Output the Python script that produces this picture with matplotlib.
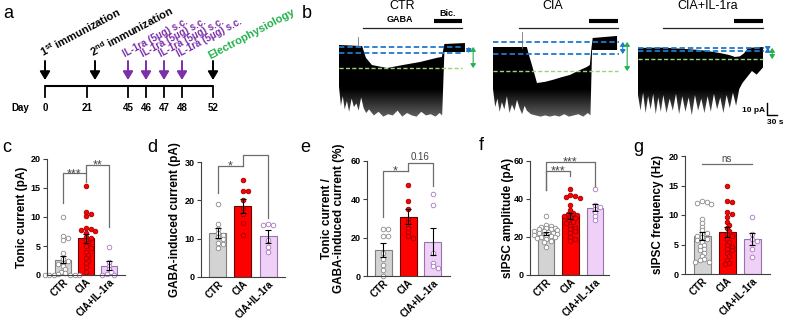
import numpy as np
import matplotlib
matplotlib.use('Agg')
import matplotlib.pyplot as plt
from matplotlib.patches import Polygon
from matplotlib.colors import LinearSegmentedColormap

plt.rcParams['font.family'] = ['Liberation Sans', 'DejaVu Sans']
plt.rcParams['mathtext.fontset'] = 'custom'
plt.rcParams['mathtext.rm'] = 'Liberation Sans'
plt.rcParams['mathtext.bf'] = 'Liberation Sans:bold'

W, H = 786, 321

# ---------------- data ----------------
groups = ['CTR', 'CIA', 'CIA+IL-1ra']

# panel a: timeline
day_labels = ['0', '21', '45', '46', '47', '48', '52']
il1ra_label = 'IL-1ra (5μg) s.c.'

# panel b: traces (time in s, current in pA)
ctr_up_t = [0, 73, 79, 85, 104, 152, 202, 256, 310, 325, 329, 333, 398]
ctr_up_v = [6.7, 5.8, 1, -4, -10, -12.5, -10, -7.5, -4, -3.3, 2, 7.5, 8.3]
ctr_lo_t = [0, 6, 12, 18, 25, 32, 40, 47, 55, 62, 70, 78, 86, 95, 110, 125, 140, 155,
            170, 185, 200, 215, 230, 245, 260, 275, 290, 305, 318, 326, 333, 398]
ctr_lo_v = [-28, -44, -36, -47, -40, -49, -38, -45, -42, -48, -37, -46, -50, -47, -52, -49,
            -53, -51, -52, -48, -53, -50, -52, -53, -49, -52, -51, -53, -50, -52, 0.8, 0.8]

cia_up_t = [0, 107, 115, 123, 139, 165, 190, 215, 243, 270, 297, 306, 311, 315, 392]
cia_up_v = [5, 5, -3, -10, -25, -24, -22.3, -20.3, -18.3, -14.8, -11.6, -10, 4, 12.5, 14.2]
cia_lo_t = [0, 7, 14, 21, 28, 36, 44, 52, 60, 68, 76, 84, 92, 100, 107, 120, 135, 150, 165,
            180, 195, 210, 225, 240, 255, 270, 285, 300, 308, 313, 392]
cia_lo_v = [-30, -45, -38, -49, -41, -47, -36, -50, -43, -48, -39, -46, -51, -44, -48, -51,
            -52, -53, -52, -53, -52, -53, -51, -53, -52, -51, -53, -50, -52, 2.5, 2.5]

il_up_t = [0, 80, 140, 196, 230, 259, 290, 306, 322, 335, 348, 395]
il_up_v = [4.2, 4.5, 3.5, 2.5, 1.2, 0, -1.8, -3.3, -2.8, -0.3, 4.2, 5]
il_lo_t = [0, 8, 16, 24, 32, 40, 48, 56, 64, 72, 80, 90, 100, 110, 120, 130, 140, 150, 160,
           170, 180, 190, 200, 210, 220, 230, 240, 250, 260, 270, 280, 290, 300, 310, 320,
           330, 345, 360, 375, 395]
il_lo_v = [-35, -48, -33, -50, -36, -47, -34, -51, -37, -49, -35, -50, -38, -48, -34, -51,
           -36, -49, -37, -52, -35, -48, -38, -50, -36, -49, -34, -47, -37, -50, -35, -46,
           -33, -44, -30, -25, -20, -15, -18, -12]

up_spike_t = [60, 92, None]
up_spike_v = [13, 17.5, None]

base_level = [0, -0.8, 1.7]
bic_level = [5, 9.2, 4.2]
gaba_level = [-12.5, -15, -5]
gaba_on = [76, 82, 79]
bic_on = [300, 303, 303]
drug_off = [389, 395, 395]

# panels c-g: mean, sem, individual cells
c_mean, c_sem = [2.6, 6.3, 1.6], [0.6, 0.7, 0.8]
c_ctr = [10, 6.7, 6.3, 6.0, 3.8, 2.7, 2.4, 2.1, 1.9, 1.5, 1.0, 0.6, 0.3, 0.1, 0, 0, 0, 0, 0, 0]
c_cia = [15.3, 10.9, 10.6, 10.2, 8.1, 7.9, 7.8, 7.6, 7.3, 6.6, 6.3, 6.0, 5.5, 5.0, 4.6,
         4.0, 3.5, 3.0, 2.5, 2.0, 1.3, 0.5]
c_il = [4.8, 2.3, 1.6, 1.0, 0.5, 0.2, 0, 0]

d_mean, d_sem = [11.5, 18.5, 10.6], [1.3, 1.9, 1.6]
d_ctr = [19.0, 13.7, 12.5, 11.5, 11.0, 10.5, 10.0, 9.0, 8.5, 7.5]
d_cia = [25.3, 22.5, 22.5, 20.0, 18.0, 16.5, 14.0, 11.0]
d_il = [13.8, 13.5, 13.5, 9.6, 7.8, 6.5]

e_mean, e_sem = [13.5, 31.0, 18.0], [3.5, 4.0, 7.0]
e_ctr = [24.4, 24.4, 20.8, 20.8, 12.0, 9.0, 6.0, 3.0, 0.0]
e_cia = [47.5, 39.0, 35.0, 30.0, 28.0, 25.0, 23.0, 21.0, 20.0]
e_il = [43.0, 37.0, 12.0, 7.0, 5.0, 4.0]

f_mean, f_sem = [22.0, 31.0, 35.5], [0.8, 1.4, 2.0]
f_ctr = [31, 26.5, 26, 25.5, 25, 24.5, 24, 24, 23.5, 23, 23, 22.5, 22, 22, 21.5, 21, 21,
         20.5, 20, 20, 19.5, 19, 18, 17.5, 14.5]
f_cia = [45.5, 42, 41.5, 41, 40.5, 37, 34, 32.5, 32, 31.5, 31, 30.5, 30, 29, 28, 27.5, 26,
         25, 24, 23, 22, 20, 19, 18]
f_il = [45.5, 37, 36, 35, 33, 31, 29]

g_mean, g_sem = [6.5, 7.1, 5.9], [0.7, 0.8, 1.0]
g_ctr = [12.4, 12.2, 12.0, 11.9, 9.4, 8.7, 8.0, 7.4, 7.0, 6.8, 6.5, 6.2, 6.0, 5.8, 5.5, 5.0,
         4.7, 4.3, 4.0, 3.6, 3.0, 2.5, 2.3, 2.1, 2.0]
g_cia = [14.9, 12.4, 12.2, 10.5, 10.2, 9.6, 8.8, 8.3, 7.8, 7.3, 6.8, 6.4, 6.0, 5.5, 5.0, 4.6,
         4.2, 4.0, 3.5, 3.0, 2.4, 1.9, 1.7]
g_il = [9.7, 6.8, 6.0, 5.6, 4.2, 2.9]

# brackets: (label, group1, group2, top, left end, right end)
c_sig = [('***', 0, 1, 17.5, 12.4, 16.0), ('**', 1, 2, 19.0, 17.5, 8.3)]
d_sig = [('*', 0, 1, 29.0, 21.8, 29.0), ('*', 1, 2, 31.7, 29.0, 15.3)]
e_sig = [('*', 0, 1, 55.0, 30.6, 55.0), ('0.16', 1, 2, 59.0, 55.0, 47.0)]
f_sig = [('***', 0, 2, 59.5, 45.0, 47.0), ('***', 0, 1, 55.0, 45.0, 52.0)]
g_sig = [('ns', 0, 2, 18.6, 18.6, 18.6)]

bar_face = ['#d3d3d3', '#ff0000', '#efd0f7']
bar_edge = ['#7f7f7f', '#6a0000', '#9a72ad']
dot_face = ['white', '#ff0000', 'white']
dot_edge = ['#8a8a8a', '#a00000', '#a878c0']
purple = '#7b2fa8'
green = '#22b04b'
blue = '#1f78c8'
lgreen = '#9bd27a'
sig_c = '#6d6d6d'

# ---------------- figure ----------------
fig = plt.figure(figsize=(W / 100, H / 100), dpi=100)


def box(x0, y0, x1, y1):
    return [x0 / W, 1 - y1 / H, (x1 - x0) / W, (y1 - y0) / H]


ov = fig.add_axes([0, 0, 1, 1])
ov.set_xlim(0, W)
ov.set_ylim(H, 0)
ov.axis('off')

for lab, x, y in [('a', 8, 14), ('b', 307, 13), ('c', 7, 147), ('d', 152, 147),
                  ('e', 305, 147), ('f', 481, 145), ('g', 638, 147)]:
    ov.text(x, y, lab, fontsize=13, ha='center', va='center')

# ---- panel a ----
day_x = [45, 87, 128, 146, 164, 182, 213]
ov.plot([day_x[0], day_x[-1]], [86, 86], color='k', lw=1.5, solid_capstyle='butt')
for x, lab in zip(day_x, day_labels):
    ov.plot([x, x], [86, 97], color='k', lw=1.3)
    ov.text(x, 108, lab, fontsize=7, fontweight='bold', ha='center', va='center')
ov.text(20, 108, 'Day', fontsize=7, fontweight='bold', ha='center', va='center')

arrow_x = [45, 95, 128, 146, 164, 182, 213]
arrow_c = ['k', 'k', purple, purple, purple, purple, 'k']
for x, c in zip(arrow_x, arrow_c):
    ov.annotate('', xy=(x, 80), xytext=(x, 61),
                arrowprops=dict(arrowstyle='-|>,head_width=0.3,head_length=0.5', color=c,
                                lw=1.4, shrinkA=0, shrinkB=0, mutation_scale=10))

rot = 28
ov.text(43, 57, r'1$^{\mathbf{st}}$ immunization', fontsize=8, fontweight='bold',
        rotation=rot, rotation_mode='anchor', ha='left', va='baseline')
ov.text(93, 57, r'2$^{\mathbf{nd}}$ immunization', fontsize=8, fontweight='bold',
        rotation=rot, rotation_mode='anchor', ha='left', va='baseline')
for x in arrow_x[2:6]:
    ov.text(x - 3, 57, il1ra_label, fontsize=7, fontweight='bold', color=purple,
            rotation=rot, rotation_mode='anchor', ha='left', va='baseline')
ov.text(210, 59, 'Electrophysiology', fontsize=8, fontweight='bold', color=green,
        rotation=rot, rotation_mode='anchor', ha='left', va='baseline')

# ---- panel b ----
TS, IS = 3.16, 0.833
traces = [(ctr_up_t, ctr_up_v, ctr_lo_t, ctr_lo_v),
          (cia_up_t, cia_up_v, cia_lo_t, cia_lo_v),
          (il_up_t, il_up_v, il_lo_t, il_lo_v)]
trace_x = [339, 493, 638]
title_t = [199, 190, 221]
shade = LinearSegmentedColormap.from_list('shade', ['#6a6a6a', '#000000'])
for i, (ut, uv, lt, lv) in enumerate(traces):
    ax = fig.add_axes(box(trace_x[i], 0, trace_x[i] + 147, 125))
    xmax, ylo, yhi = 147 * TS, (53 - 125) * IS, 53 * IS
    ax.set_xlim(0, xmax)
    ax.set_ylim(ylo, yhi)
    ax.axis('off')
    poly = Polygon(np.c_[np.r_[ut, lt[::-1]], np.r_[uv, lv[::-1]]], closed=True,
                   facecolor='none', edgecolor='none')
    ax.add_patch(poly)
    yy = np.linspace(ylo, yhi, 200)
    grad = np.clip((yy + 56) / 26, 0, 1).reshape(-1, 1)
    im = ax.imshow(grad, extent=[0, xmax, ylo, yhi], origin='lower', aspect='auto',
                   cmap=shade, vmin=0, vmax=1, zorder=1)
    im.set_clip_path(poly)
    if up_spike_t[i] is not None:
        ax.plot([up_spike_t[i]] * 2, [uv[0] - 1, up_spike_v[i]], color='#777777', lw=0.6)
    end = drug_off[i]
    ax.plot([0, end + 3], [bic_level[i]] * 2, color=blue, lw=1.3, ls=(0, (3, 1.6)), zorder=3)
    ax.plot([0, end + 3], [base_level[i]] * 2, color=blue, lw=1.3, ls=(0, (3, 1.6)), zorder=3)
    ax.plot([0, end], [gaba_level[i]] * 2, color=lgreen, lw=1.0, ls=(0, (3, 1.6)), zorder=3)
    ax.annotate('', xy=(410, bic_level[i]), xytext=(410, base_level[i]),
                arrowprops=dict(arrowstyle='<|-|>,head_width=0.2,head_length=0.3', color=blue,
                                lw=0.8, shrinkA=0, shrinkB=0, mutation_scale=8))
    ax.annotate('', xy=(424, bic_level[i]), xytext=(424, gaba_level[i]),
                arrowprops=dict(arrowstyle='<|-|>,head_width=0.2,head_length=0.3', color=green,
                                lw=0.8, shrinkA=0, shrinkB=0, mutation_scale=8))
    ax.plot([gaba_on[i], end], [20.8, 20.8], color='#222222', lw=0.9)
    ax.plot([bic_on[i], end], [26.7, 26.7], color='black', lw=3, solid_capstyle='butt')
    ax.text(title_t[i], 39, groups[i], fontsize=9, ha='center', va='center')
    if i == 0:
        ax.text(193, 27.5, 'GABA', fontsize=6.5, fontweight='bold', ha='center', va='center')
        ax.text(344, 32.5, 'Bic.', fontsize=6.5, fontweight='bold', ha='center', va='center')
    if i == 2:
        t0, y0 = 408, -51.6
        ax.plot([t0, t0, t0 + 30], [y0 + 10, y0, y0], color='black', lw=1.0)
        ax.text(t0 - 7, y0 + 4, '10 pA', fontsize=6, fontweight='bold', ha='right', va='center')
        ax.text(t0 + 26, y0 - 3, '30 s', fontsize=6, fontweight='bold', ha='center', va='top')

# ---- panels c-g ----
panels = [
    dict(px=(47, 159, 125, 275), xl=(-0.7, 2.7), top=20, ticks=[0, 5, 10, 15, 20],
         mean=c_mean, sem=c_sem, pts=[c_ctr, c_cia, c_il], sig=c_sig,
         ylabel='Tonic current (pA)', lx=22),
    dict(px=(201, 162, 285, 277), xl=(-0.68, 2.68), top=30, ticks=[0, 10, 20, 30],
         mean=d_mean, sem=d_sem, pts=[d_ctr, d_cia, d_il], sig=d_sig,
         ylabel='GABA-induced current (pA)', lx=175),
    dict(px=(367, 161, 450, 276), xl=(-0.64, 2.68), top=60, ticks=[0, 20, 40, 60],
         mean=e_mean, sem=e_sem, pts=[e_ctr, e_cia, e_il], sig=e_sig,
         ylabel='Tonic current /\nGABA-induced current (%)', lx=333),
    dict(px=(530, 161, 609, 275), xl=(-0.65, 2.57), top=60, ticks=[0, 20, 40, 60],
         mean=f_mean, sem=f_sem, pts=[f_ctr, f_cia, f_il], sig=f_sig,
         ylabel='sIPSC amplitude (pA)', lx=508),
    dict(px=(685, 156, 770, 274), xl=(-0.68, 2.72), top=20, ticks=[0, 5, 10, 15, 20],
         mean=g_mean, sem=g_sem, pts=[g_ctr, g_cia, g_il], sig=g_sig,
         ylabel='sIPSC frequency (Hz)', lx=658),
]


def swarm(vals, ppy, d):
    # greedy beeswarm: nearest free horizontal slot for each point
    placed = []
    res = np.zeros(len(vals))
    cand = [0.0] + [s * k * d / 2 for k in range(1, 14) for s in (1, -1)]
    for i in np.argsort(vals)[::-1]:
        y = vals[i] * ppy
        for c in cand:
            if all((c - px) ** 2 + (y - py) ** 2 >= (0.75 * d) ** 2 for py, px in placed):
                break
        placed.append((y, c))
        res[i] = c
    return res


for p in panels:
    x0, y0, x1, y1 = p['px']
    ax = fig.add_axes(box(x0, y0, x1, y1))
    ax.set_xlim(*p['xl'])
    ax.set_ylim(0, p['top'])
    ppx = (x1 - x0) / (p['xl'][1] - p['xl'][0])
    ppy = (y1 - y0) / p['top']
    xs = np.arange(3)
    ax.bar(xs, p['mean'], width=0.68, color=bar_face, edgecolor=bar_edge, lw=0.8, zorder=1)
    for j in range(3):
        v = np.array(p['pts'][j], dtype=float)
        off = swarm(v, ppy, 4.6) / ppx
        ax.scatter(j + off, v, s=11, facecolor=dot_face[j], edgecolor=dot_edge[j],
                   linewidth=0.6, zorder=2, clip_on=False)
    ax.errorbar(xs, p['mean'], yerr=p['sem'], fmt='none', ecolor='black', elinewidth=0.8,
                capsize=2, capthick=0.8, zorder=3)
    for lab, g1, g2, yt, yl, yr in p['sig']:
        ax.plot([g1, g1, g2, g2], [yl, yt, yt, yr], color=sig_c, lw=0.9, clip_on=False)
        if '*' in lab:
            ax.annotate(lab, xy=((g1 + g2) / 2, yt), xytext=(0, -2.5), textcoords='offset points',
                        ha='center', va='baseline', fontsize=9, color='#444444')
        else:
            ax.annotate(lab, xy=((g1 + g2) / 2, yt), xytext=(0, 0.5), textcoords='offset points',
                        ha='center', va='bottom', fontsize=7, color='#444444')
    for s in ['top', 'right']:
        ax.spines[s].set_visible(False)
    for s in ['left', 'bottom']:
        ax.spines[s].set_color('#404040')
        ax.spines[s].set_linewidth(0.8)
    ax.set_yticks(p['ticks'])
    ax.set_yticklabels([str(t) for t in p['ticks']], fontsize=6.5, fontweight='bold')
    ax.tick_params(axis='y', length=3, width=0.8, color='#404040', pad=1.5)
    ax.set_xticks(xs)
    ax.set_xticklabels(groups, rotation=45, ha='right', rotation_mode='anchor',
                       fontsize=7, fontweight='bold')
    ax.tick_params(axis='x', length=0, pad=1.5)
    fig.text(p['lx'] / W, 1 - (y0 + y1) / 2 / H, p['ylabel'], rotation=90, fontsize=8.5,
             fontweight='bold', ha='center', va='center', multialignment='center',
             linespacing=1.05)

fig.savefig('out.png', dpi=100)
